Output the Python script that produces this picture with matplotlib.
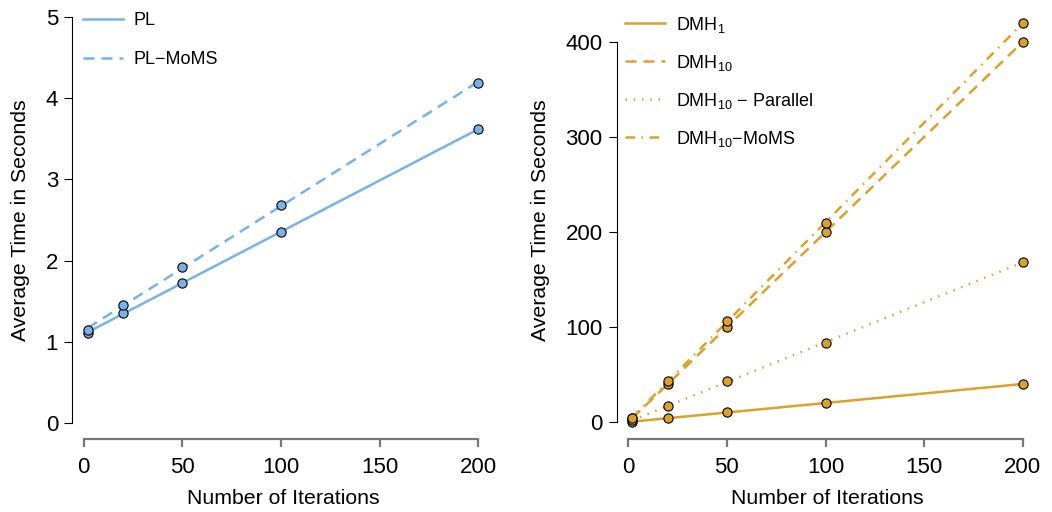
import numpy as np
import matplotlib
matplotlib.use("Agg")
import matplotlib.pyplot as plt

plt.rcParams['font.family'] = ['Liberation Sans', 'DejaVu Sans']
plt.rcParams['mathtext.fontset'] = 'custom'
plt.rcParams['mathtext.rm'] = 'Liberation Sans'
plt.rcParams['mathtext.it'] = 'Liberation Sans'

iters = [2, 20, 50, 100, 200]

# PL timings
pl = [1.11, 1.35, 1.73, 2.35, 3.62]
pl_moms = [1.145, 1.45, 1.92, 2.69, 4.19]

# DMH timings
dmh1 = [0.3, 4.0, 10.0, 20.0, 40.0]
dmh10 = [4.0, 39.6, 100.0, 199.6, 400.0]
dmh10_par = [1.7, 16.5, 42.8, 83.5, 168.0]
dmh10_moms = [4.4, 42.8, 106.0, 209.0, 420.0]

blue = "#78b2e6"
gold = "#daa22a"

LW = 1.8
DASHED = (0, (4.4, 2.8))
DOTTED = (0, (0.6, 2.7))
DOTDASH = (0, (3.8, 2.6, 0.6, 2.6))


def style_axes(ax, yticks):
    ax.set_xlim(-5.92, 207.92)
    for s in ["top", "right"]:
        ax.spines[s].set_visible(False)
    ax.spines["left"].set_bounds(yticks[0], yticks[-1])
    ax.spines["left"].set_linewidth(0.8)
    ax.spines["bottom"].set_bounds(0, 200)
    ax.spines["bottom"].set_color("#777777")
    ax.spines["bottom"].set_linewidth(1.6)
    ax.set_xticks([0, 50, 100, 150, 200])
    ax.set_yticks(yticks)
    ax.tick_params(axis="y", length=6, width=0.8, labelsize=16, pad=4)
    ax.tick_params(axis="x", length=5.5, width=1.6, color="#777777", labelsize=16, pad=7)
    ax.set_xlabel("Number of Iterations", fontsize=15.3, labelpad=8)
    ax.set_ylabel("Average Time in Seconds", fontsize=15.3, labelpad=11)


def fit_line(ax, x, y, color, ls, label):
    # least squares line over the range of iterations
    b, a = np.polyfit(x, y, 1)
    xs = np.array([min(x), max(x)])
    ax.plot(xs, a + b * xs, color=color, lw=LW, linestyle=ls, label=label)
    ax.scatter(x, y, s=44, color=color, edgecolors="black", linewidths=0.8, zorder=3)


fig = plt.figure(figsize=(10.52, 5.12), dpi=100)
ax1 = fig.add_axes([0.0684, 0.1422, 0.4011, 0.8562])
ax2 = fig.add_axes([0.5861, 0.1422, 0.4011, 0.8562])

fit_line(ax1, iters, pl, blue, "-", "PL")
fit_line(ax1, iters, pl_moms, blue, DASHED, "PL\u2212MoMS")
ax1.set_ylim(-0.2, 5.2)
style_axes(ax1, [0, 1, 2, 3, 4, 5])

fit_line(ax2, iters, dmh1, gold, "-", "DMH$_{\\mathrm{1}}$")
fit_line(ax2, iters, dmh10, gold, DASHED, "DMH$_{\\mathrm{10}}$")
fit_line(ax2, iters, dmh10_par, gold, DOTTED, "DMH$_{\\mathrm{10}}$ \u2212 Parallel")
fit_line(ax2, iters, dmh10_moms, gold, DOTDASH, "DMH$_{\\mathrm{10}}$\u2212MoMS")
ax2.set_ylim(-18.1, 443)
style_axes(ax2, [0, 100, 200, 300, 400])

for ax, anchor, spacing in ((ax1, (0.009, 0.99), 1.22), (ax2, (0.003, 0.985), 1.0)):
    ax.legend(loc="upper left", bbox_to_anchor=anchor, frameon=False,
              fontsize=13, handlelength=2.2, handletextpad=0.6,
              labelspacing=spacing, borderaxespad=0)

fig.savefig("out.png", dpi=100)
